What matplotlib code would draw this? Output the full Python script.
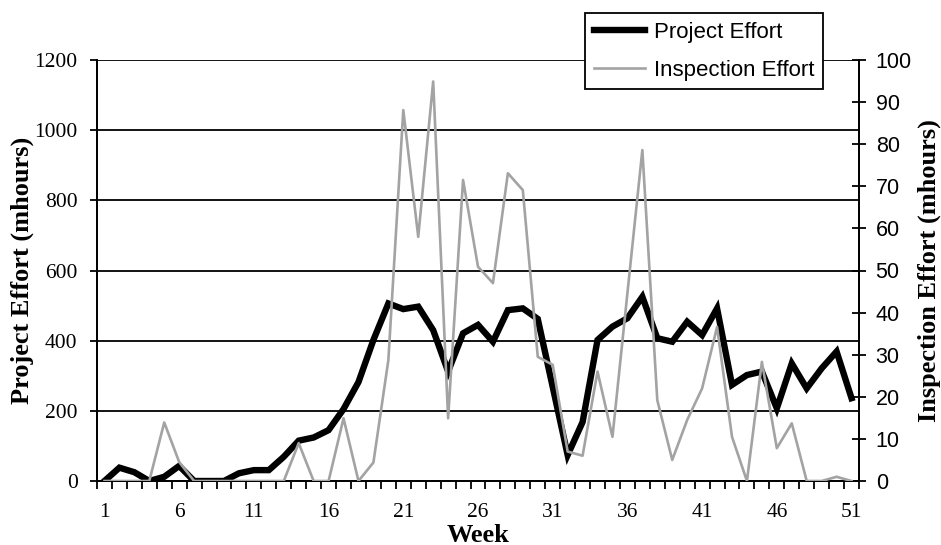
import matplotlib

matplotlib.use("Agg")
import matplotlib.pyplot as plt
from matplotlib.ticker import FixedLocator, NullFormatter

weeks = list(range(1, 52))
project_effort = [
    0, 38, 25, 0, 12, 43, 0, 0, 0, 22,
    31, 31, 69, 115, 124, 145, 205, 282, 402, 506,
    490, 497, 430, 312, 421, 445, 397, 487, 492, 462,
    268, 74, 168, 402, 440, 464, 525, 407, 397, 454,
    416, 492, 274, 302, 312, 207, 335, 264, 321, 369,
    236,
]
inspection_effort = [
    0, 0, 0, 0, 13.9, 4.5, 0, 0, 0, 0,
    0, 0, 0, 9.0, 0, 0, 14.9, 0, 4.4, 28.7,
    88.1, 58.0, 94.9, 14.9, 71.5, 50.9, 47.0, 73.1, 69.1, 29.5,
    27.6, 7.0, 6.0, 26.0, 10.5, 44.6, 78.6, 19.2, 5.0, 14.5,
    22.0, 36.6, 10.5, 0, 28.3, 7.8, 13.7, 0, 0, 1.0,
    0,
]
x_labels = [1, 6, 11, 16, 21, 26, 31, 36, 41, 46, 51]

serif = "Liberation Serif"
sans = "Liberation Sans"

fig = plt.figure(figsize=(9.41, 5.45), dpi=100)
ax = fig.add_axes([97 / 941, 1 - 481 / 545, (859 - 97) / 941, (481 - 60) / 545])
ax2 = ax.twinx()

ax.set_xlim(0.5, 51.5)
ax.set_ylim(0, 1200)
ax2.set_ylim(0, 100)

# gridlines at 200 steps, drawn below the series
for v in range(200, 1201, 200):
    ax.axhline(v, color="black", linewidth=1.3, zorder=1)

l1, = ax.plot(weeks, project_effort, color="black", linewidth=4.6,
              solid_joinstyle="miter", zorder=3)
l2, = ax2.plot(weeks, inspection_effort, color="#a3a3a3", linewidth=1.9,
               zorder=3)

for a in (ax, ax2):
    a.spines["top"].set_visible(False)
    a.spines["left"].set_linewidth(1.3)
    a.spines["right"].set_linewidth(1.3)
    a.spines["bottom"].set_linewidth(1.3)

# x: tick marks between categories, labels every 5 weeks
ax.xaxis.set_major_locator(FixedLocator([w + 0.5 for w in range(0, 52)]))
ax.xaxis.set_major_formatter(NullFormatter())
ax.xaxis.set_minor_locator(FixedLocator(x_labels))
ax.set_xticklabels([str(v) for v in x_labels], minor=True,
                   fontfamily=serif, fontsize=15.5)
ax.tick_params(axis="x", which="major", direction="out", length=6, width=1.3)
ax.tick_params(axis="x", which="minor", length=0, pad=16)

ax.set_yticks(range(0, 1201, 200))
ax.set_yticklabels([str(v) for v in range(0, 1201, 200)],
                   fontfamily=serif, fontsize=15.5)
ax.tick_params(axis="y", direction="out", length=5, width=1.3, pad=9)

ax2.set_yticks(range(0, 101, 10))
ax2.set_yticklabels([str(v) for v in range(0, 101, 10)],
                    fontfamily=sans, fontsize=15.5)
ax2.tick_params(axis="y", direction="inout", length=10, width=1.3, pad=7)

ax.set_xlabel("Week", fontfamily=serif, fontsize=19, fontweight="bold",
              labelpad=1)
ax.set_ylabel("Project Effort (mhours)", fontfamily=serif, fontsize=19,
              fontweight="bold", labelpad=0)
ax2.set_ylabel("Inspection Effort (mhours)", fontfamily=serif, fontsize=19,
               fontweight="bold", labelpad=4)

leg = fig.legend([l1, l2], ["Project Effort", "Inspection Effort"],
                 loc="upper left", bbox_to_anchor=(585 / 941, 1 - 13 / 545),
                 prop={"family": sans, "size": 16}, frameon=True,
                 fancybox=False, framealpha=1, edgecolor="black",
                 handlelength=2.3, handletextpad=0.4, labelspacing=0.75,
                 borderpad=0.4, borderaxespad=0)
leg.get_frame().set_linewidth(1.3)

fig.savefig("out.png", dpi=100)
